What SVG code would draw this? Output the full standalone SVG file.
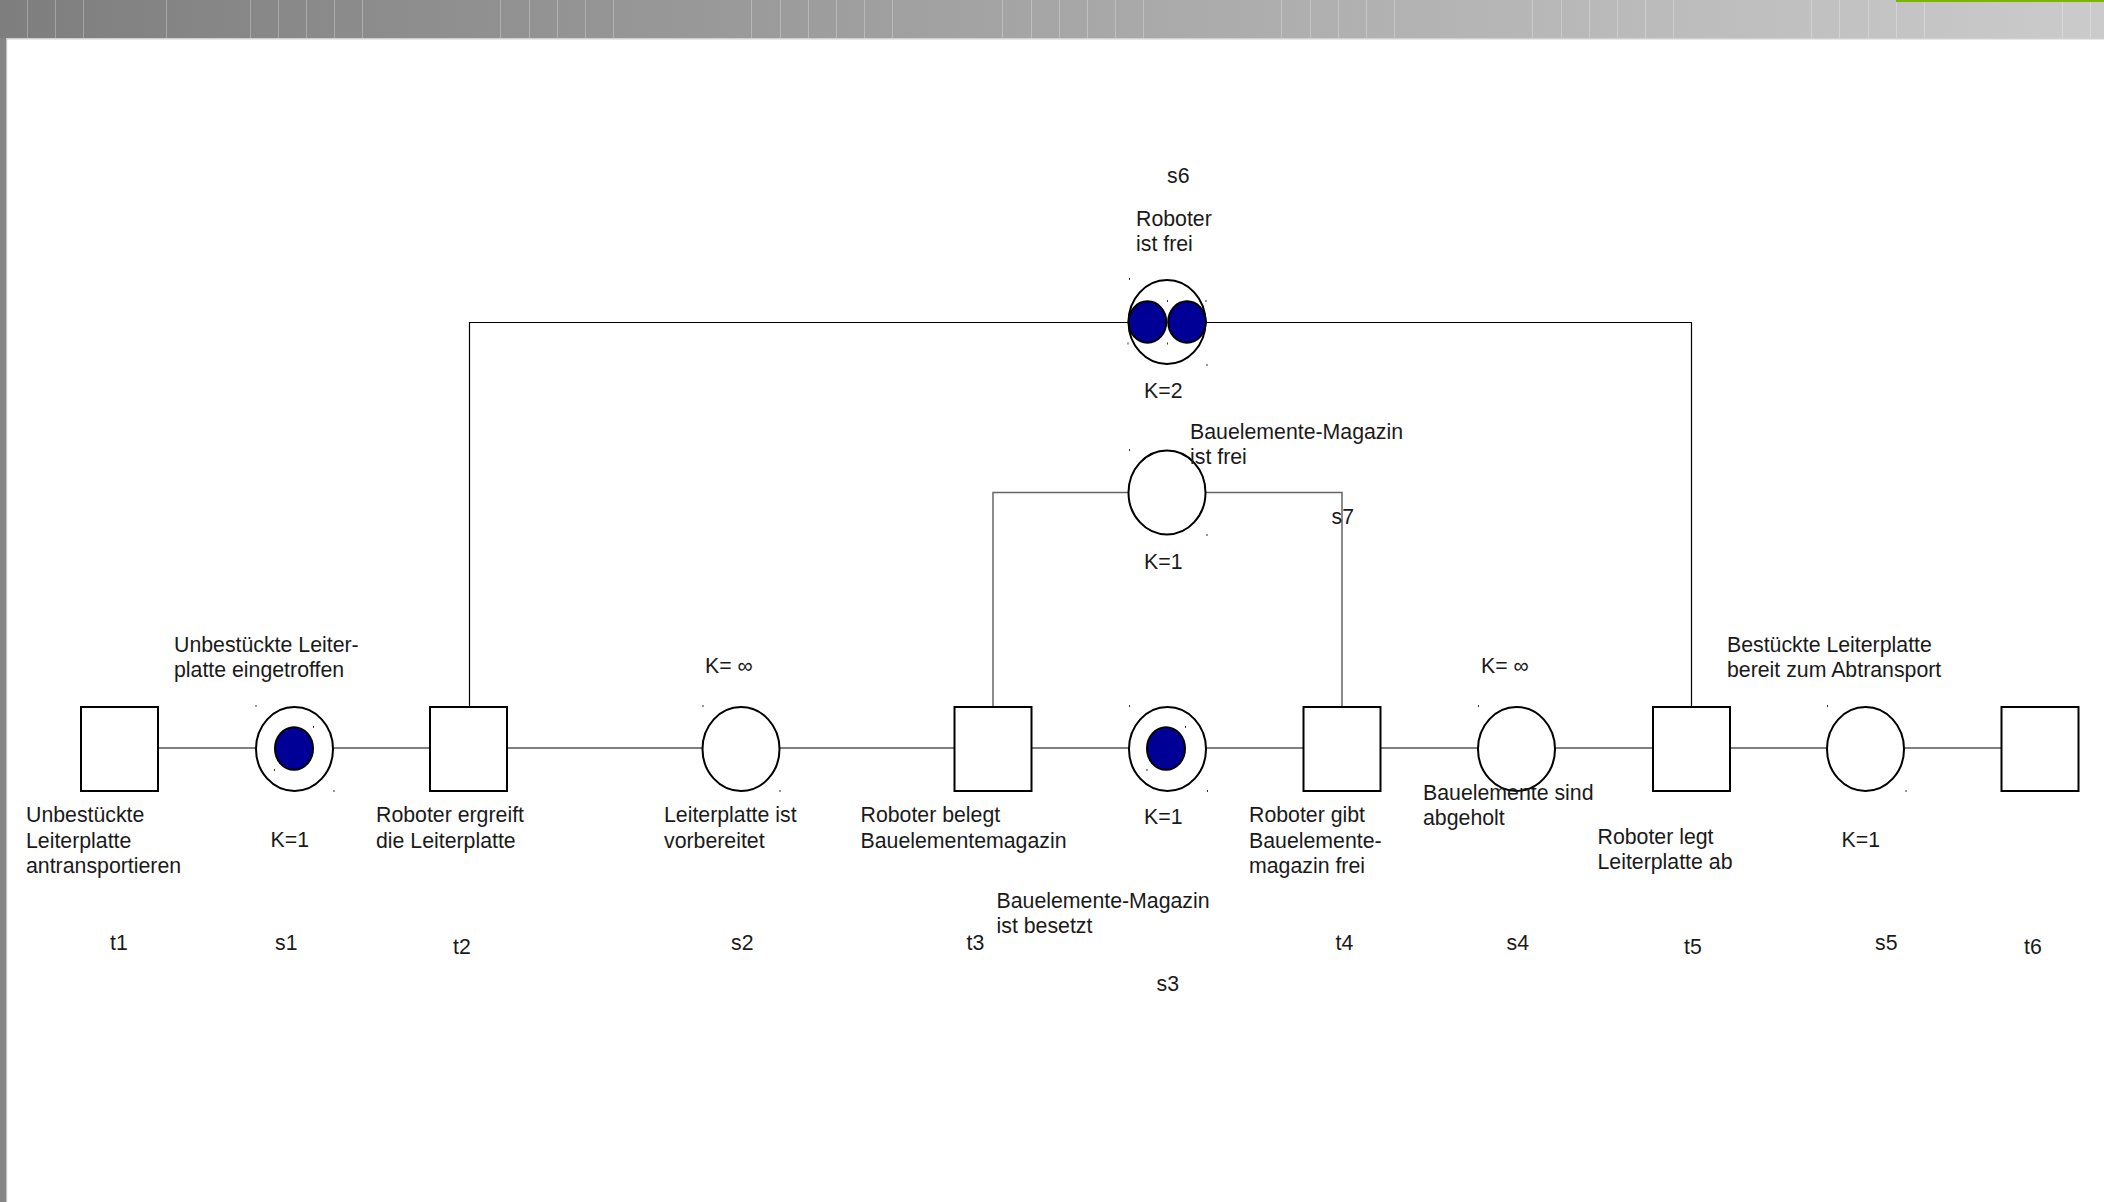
<svg xmlns="http://www.w3.org/2000/svg" width="2104" height="1202" viewBox="0 0 2104 1202">
<defs>
<linearGradient id="bar" x1="0" y1="0" x2="1" y2="0">
<stop offset="0" stop-color="#7e7e7e"/>
<stop offset="0.5" stop-color="#a6a6a6"/>
<stop offset="1" stop-color="#cbcbcb"/>
</linearGradient>
<style>
.t{font-family:"Liberation Sans",Arial,sans-serif;font-size:21.3px;fill:#1a1a1a}
.tr{fill:#fff;stroke:#000;stroke-width:2}
.pl{fill:#fff;stroke:#000;stroke-width:2}
.tok{fill:#000096;stroke:#000;stroke-width:2}
.c{fill:none;stroke:#000;stroke-width:1.2}
.cg{fill:none;stroke:#666;stroke-width:1.5}
.bl{stroke:#fff;stroke-opacity:0.28;stroke-width:1}
.d{fill:#333}
</style>
</defs>
<rect width="2104" height="1202" fill="#fff"/>
<g id="frame">
<rect x="0" y="0" width="2104" height="38" fill="url(#bar)"/>
<g class="bl">
<line x1="27.5" y1="0" x2="27.5" y2="38"/><line x1="55.5" y1="0" x2="55.5" y2="38"/><line x1="83.5" y1="0" x2="83.5" y2="38"/>
<line x1="166.5" y1="0" x2="166.5" y2="38"/><line x1="250.5" y1="0" x2="250.5" y2="38"/><line x1="278.5" y1="0" x2="278.5" y2="38"/>
<line x1="306.5" y1="0" x2="306.5" y2="38"/><line x1="334.5" y1="0" x2="334.5" y2="38"/><line x1="362.5" y1="0" x2="362.5" y2="38"/>
<line x1="500.5" y1="0" x2="500.5" y2="38"/><line x1="529.5" y1="0" x2="529.5" y2="38"/><line x1="557.5" y1="0" x2="557.5" y2="38"/>
<line x1="585.5" y1="0" x2="585.5" y2="38"/><line x1="613.5" y1="0" x2="613.5" y2="38"/><line x1="751.5" y1="0" x2="751.5" y2="38"/>
<line x1="780.5" y1="0" x2="780.5" y2="38"/><line x1="808.5" y1="0" x2="808.5" y2="38"/><line x1="836.5" y1="0" x2="836.5" y2="38"/>
<line x1="864.5" y1="0" x2="864.5" y2="38"/><line x1="892.5" y1="0" x2="892.5" y2="38"/><line x1="1002.5" y1="0" x2="1002.5" y2="38"/>
<line x1="1031.5" y1="0" x2="1031.5" y2="38"/><line x1="1059.5" y1="0" x2="1059.5" y2="38"/><line x1="1087.5" y1="0" x2="1087.5" y2="38"/>
<line x1="1115.5" y1="0" x2="1115.5" y2="38"/><line x1="1143.5" y1="0" x2="1143.5" y2="38"/><line x1="1281.5" y1="0" x2="1281.5" y2="38"/>
<line x1="1310.5" y1="0" x2="1310.5" y2="38"/><line x1="1338.5" y1="0" x2="1338.5" y2="38"/><line x1="1366.5" y1="0" x2="1366.5" y2="38"/>
<line x1="1394.5" y1="0" x2="1394.5" y2="38"/><line x1="1532.5" y1="0" x2="1532.5" y2="38"/><line x1="1561.5" y1="0" x2="1561.5" y2="38"/>
<line x1="1589.5" y1="0" x2="1589.5" y2="38"/><line x1="1617.5" y1="0" x2="1617.5" y2="38"/><line x1="1645.5" y1="0" x2="1645.5" y2="38"/>
<line x1="1673.5" y1="0" x2="1673.5" y2="38"/><line x1="1811.5" y1="0" x2="1811.5" y2="38"/><line x1="1839.5" y1="0" x2="1839.5" y2="38"/>
<line x1="1868.5" y1="0" x2="1868.5" y2="38"/><line x1="1896.5" y1="0" x2="1896.5" y2="38"/><line x1="1924.5" y1="0" x2="1924.5" y2="38"/>
<line x1="2062.5" y1="0" x2="2062.5" y2="38"/><line x1="2090.5" y1="0" x2="2090.5" y2="38"/>
</g>
<rect x="1896" y="0" width="208" height="2" fill="#7ab800"/>
<rect x="0" y="38" width="2104" height="1.5" fill="#cfcfcf"/>
<rect x="0" y="38" width="6" height="1164" fill="#858585"/>
<rect x="6" y="39" width="1.2" height="1163" fill="#c4c4c4"/>
</g>

<g id="connectors">
<line class="c" x1="159" y1="748" x2="256" y2="748"/>
<line class="c" x1="333" y1="748" x2="430" y2="748"/>
<line class="c" x1="508" y1="748" x2="702" y2="748"/>
<line class="c" x1="780" y1="748" x2="954" y2="748"/>
<line class="c" x1="1032" y1="748" x2="1129" y2="748"/>
<line class="c" x1="1206" y1="748" x2="1303" y2="748"/>
<line class="c" x1="1381" y1="748" x2="1478" y2="748"/>
<line class="c" x1="1555" y1="748" x2="1652" y2="748"/>
<line class="c" x1="1730" y1="748" x2="1827" y2="748"/>
<line class="c" x1="1904" y1="748" x2="2001" y2="748"/>
<path class="c" d="M469.5 706 V322.5 H1129"/>
<path class="c" d="M1205 322.5 H1691.5 V706"/>
<path class="cg" d="M993 706 V492.5 H1129"/>
<path class="cg" d="M1205 492.5 H1342 V706"/>
</g>

<g id="t1">
<rect class="tr" x="81" y="707" width="77" height="84"/>
<text class="t" x="26" y="822">Unbestückte</text>
<text class="t" x="26" y="847.5">Leiterplatte</text>
<text class="t" x="26" y="873">antransportieren</text>
<text class="t" x="110" y="950">t1</text>
</g>
<g id="s1">
<ellipse class="pl" cx="294.5" cy="749" rx="38.5" ry="42"/>
<ellipse class="tok" cx="294" cy="748.5" rx="19" ry="21.3"/>
<rect class="d" x="255.5" y="705" width="1" height="2"/><rect class="d" x="333.5" y="790" width="1" height="2"/>
<rect class="d" x="313" y="726" width="1" height="2"/><rect class="d" x="274" y="769" width="1" height="2"/>
<text class="t" x="174" y="652">Unbestückte Leiter-</text>
<text class="t" x="174" y="677">platte eingetroffen</text>
<text class="t" x="270.5" y="847">K=1</text>
<text class="t" x="275" y="950">s1</text>
</g>
<g id="t2">
<rect class="tr" x="430" y="707" width="77" height="84"/>
<text class="t" x="376" y="822">Roboter ergreift</text>
<text class="t" x="376" y="847.5">die Leiterplatte</text>
<text class="t" x="453" y="953.5">t2</text>
</g>
<g id="s2">
<ellipse class="pl" cx="741" cy="749" rx="38.5" ry="42"/>
<rect class="d" x="702.5" y="705" width="1" height="2"/><rect class="d" x="779.5" y="790" width="1" height="2"/>
<text class="t" x="705" y="672.5">K= ∞</text>
<text class="t" x="664" y="822">Leiterplatte ist</text>
<text class="t" x="664" y="847.5">vorbereitet</text>
<text class="t" x="731" y="950">s2</text>
</g>
<g id="t3">
<rect class="tr" x="954.5" y="707" width="77" height="84"/>
<text class="t" x="860.5" y="822">Roboter belegt</text>
<text class="t" x="860.5" y="847.5">Bauelementemagazin</text>
<text class="t" x="966.5" y="950">t3</text>
</g>
<g id="s3">
<ellipse class="pl" cx="1167.5" cy="749" rx="38.5" ry="42"/>
<ellipse class="tok" cx="1166" cy="748.5" rx="19" ry="21.3"/>
<rect class="d" x="1129" y="705" width="1" height="2"/><rect class="d" x="1207" y="790" width="1" height="2"/>
<rect class="d" x="1185" y="726" width="1" height="2"/><rect class="d" x="1146.5" y="769" width="1" height="2"/>
<text class="t" x="1144" y="823.5">K=1</text>
<text class="t" x="996.5" y="907.5">Bauelemente-Magazin</text>
<text class="t" x="996.5" y="933">ist besetzt</text>
<text class="t" x="1156.5" y="991">s3</text>
</g>
<g id="t4">
<rect class="tr" x="1303.5" y="707" width="77" height="84"/>
<text class="t" x="1249" y="822">Roboter gibt</text>
<text class="t" x="1249" y="847.5">Bauelemente-</text>
<text class="t" x="1249" y="873">magazin frei</text>
<text class="t" x="1335.5" y="950">t4</text>
</g>
<g id="s4">
<ellipse class="pl" cx="1516.5" cy="749" rx="38.5" ry="42"/>
<rect class="d" x="1478" y="705" width="1" height="2"/>
<text class="t" x="1481" y="672.5">K= ∞</text>
<text class="t" x="1423" y="800">Bauelemente sind</text>
<text class="t" x="1423" y="825">abgeholt</text>
<text class="t" x="1506.5" y="950">s4</text>
</g>
<g id="t5">
<rect class="tr" x="1653" y="707" width="77" height="84"/>
<text class="t" x="1597.5" y="843.5">Roboter legt</text>
<text class="t" x="1597.5" y="868.5">Leiterplatte ab</text>
<text class="t" x="1684" y="953.5">t5</text>
</g>
<g id="s5">
<ellipse class="pl" cx="1865.5" cy="749" rx="38.5" ry="42"/>
<rect class="d" x="1827" y="705" width="1" height="2"/><rect class="d" x="1905.5" y="790" width="1" height="2"/>
<text class="t" x="1727" y="652">Bestückte Leiterplatte</text>
<text class="t" x="1727" y="677">bereit zum Abtransport</text>
<text class="t" x="1841.5" y="847">K=1</text>
<text class="t" x="1875" y="950">s5</text>
</g>
<g id="t6">
<rect class="tr" x="2001.5" y="707" width="77" height="84"/>
<text class="t" x="2024" y="953.5">t6</text>
</g>
<g id="s6">
<ellipse class="pl" cx="1167" cy="322" rx="38.5" ry="42"/>
<ellipse class="tok" cx="1147.5" cy="322" rx="18.8" ry="20.7"/>
<ellipse class="tok" cx="1187" cy="322" rx="18.8" ry="20.7"/>
<rect class="d" x="1129" y="278" width="1" height="2"/><rect class="d" x="1206.5" y="364" width="1" height="2"/>
<rect class="d" x="1167" y="300" width="1" height="2"/><rect class="d" x="1205.5" y="300" width="1" height="2"/>
<rect class="d" x="1127.5" y="342.5" width="1" height="2"/><rect class="d" x="1167" y="342.5" width="1" height="2"/>
<text class="t" x="1167" y="183">s6</text>
<text class="t" x="1136" y="226">Roboter</text>
<text class="t" x="1136" y="250.5">ist frei</text>
<text class="t" x="1144" y="397.5">K=2</text>
</g>
<g id="s7">
<ellipse class="pl" cx="1167" cy="492.5" rx="38.5" ry="42"/>
<rect class="d" x="1129" y="449" width="1" height="2"/><rect class="d" x="1206.5" y="534" width="1" height="2"/>
<text class="t" x="1190" y="439">Bauelemente-Magazin</text>
<text class="t" x="1190" y="463.5">ist frei</text>
<text class="t" x="1331.5" y="523.5">s7</text>
<text class="t" x="1144" y="568.5">K=1</text>
</g>
</svg>
